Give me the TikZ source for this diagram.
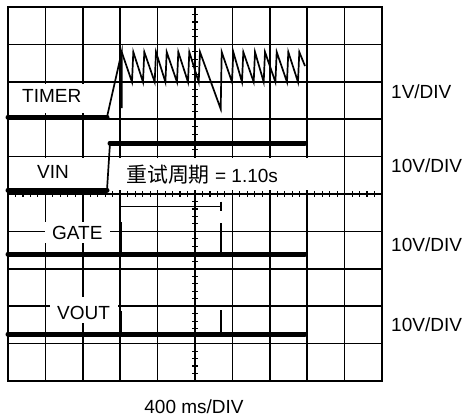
\documentclass[tikz,border=0pt]{standalone}
\usepackage{fontspec}
\setmainfont{Liberation Sans}
\newfontfamily\cjk[Scale=1.1]{Noto Sans CJK SC}
\usetikzlibrary{positioning}

\begin{document}
\begin{tikzpicture}[x=1pt,y=-1pt,
  gridline/.style={line width=1.5pt},
  axistick/.style={line width=1.1pt},
  trace/.style={line width=5pt,line cap=round},
  thintrace/.style={line width=1.7pt,line join=miter},
  mask/.style={fill=white},
  lbl/.style={font=\fontsize{19}{21}\selectfont,inner sep=0pt}]
\useasboundingbox (0,0) rectangle (466,420);
% grid, 10 x 10 divisions
\foreach \i in {0,...,10}
  {\draw[gridline] ({8+37.4*\i},7) -- ({8+37.4*\i},381);
   \draw[gridline] (8,{7+37.4*\i}) -- (382,{7+37.4*\i});}
\draw[line width=1.8pt] (8,7) rectangle (382,381);
% minor ticks on the centre axes
\foreach \i in {1,...,49}
  {\draw[axistick] ({8+7.48*\i},191) -- ({8+7.48*\i},197);
   \draw[axistick] (192,{7+7.48*\i}) -- (198,{7+7.48*\i});}
% white boxes behind the labels
\fill[mask] (12,84) rectangle (100,113);
\fill[mask] (12,158) rectangle (104,189);
\fill[mask] (112,158) rectangle (315,190);
\fill[mask] (45,222) rectangle (110,243);
\fill[mask] (50,297) rectangle (118,323);
% TIMER
\draw[trace] (8,117) -- (107,117);
\draw[thintrace] (107,117) -- (121.7,52) -- (121.7,108);
\draw[thintrace] (121.7,52)
  \foreach \p in {133.3,144.3,156,166.7,178.3,189.3,200} { -- (\p-1.3,82) -- (\p,52) }
  -- (220.7,109) -- (221.7,52)
  \foreach \p in {233.3,243.3,255,265,276.7,288.3,299.3} { -- (\p-1.3,82) -- (\p,52) }
  -- (305,66);
% VIN
\draw[trace] (8,190) -- (107,190);
\draw[thintrace] (107,190) -- (110,143);
\draw[trace] (110,143) -- (305,143);
% retry period marker
\draw[line width=1.3pt] (120.2,206.5) -- (221,206.5);
\draw[line width=1.3pt] (221,201.5) -- (221,211);
% GATE
\draw[trace] (8,254) -- (305,254);
\draw[line width=2pt] (121,222) -- (121,254);
\draw[line width=1.3pt] (221,223) -- (221,254);
% VOUT
\draw[trace] (8,334) -- (305,334);
\draw[line width=2pt] (121,311) -- (121,334);
\draw[line width=1.3pt] (221,310) -- (221,334);
% labels
\node[lbl,anchor=west] (timer) at (22,96) {TIMER};
\node[lbl,anchor=west] (vin) at (37,172) {VIN};
\node[lbl,anchor=west] (retry) at (126,175) {{\cjk 重试周期} = 1.10s};
\node[lbl,anchor=west] (gate) at (52,233) {GATE};
\node[lbl,anchor=west] (vout) at (57,313) {VOUT};
\node[lbl,anchor=west] (timerdiv) at (391,92) {1V/DIV};
\node[lbl,anchor=west] (vindiv) at (391,166) {10V/DIV};
\node[lbl,anchor=west] (gatediv) at (391,245) {10V/DIV};
\node[lbl,anchor=west] (voutdiv) at (391,325) {10V/DIV};
\node[lbl] (timediv) at (194,407) {400 ms/DIV};
\end{tikzpicture}
\end{document}
